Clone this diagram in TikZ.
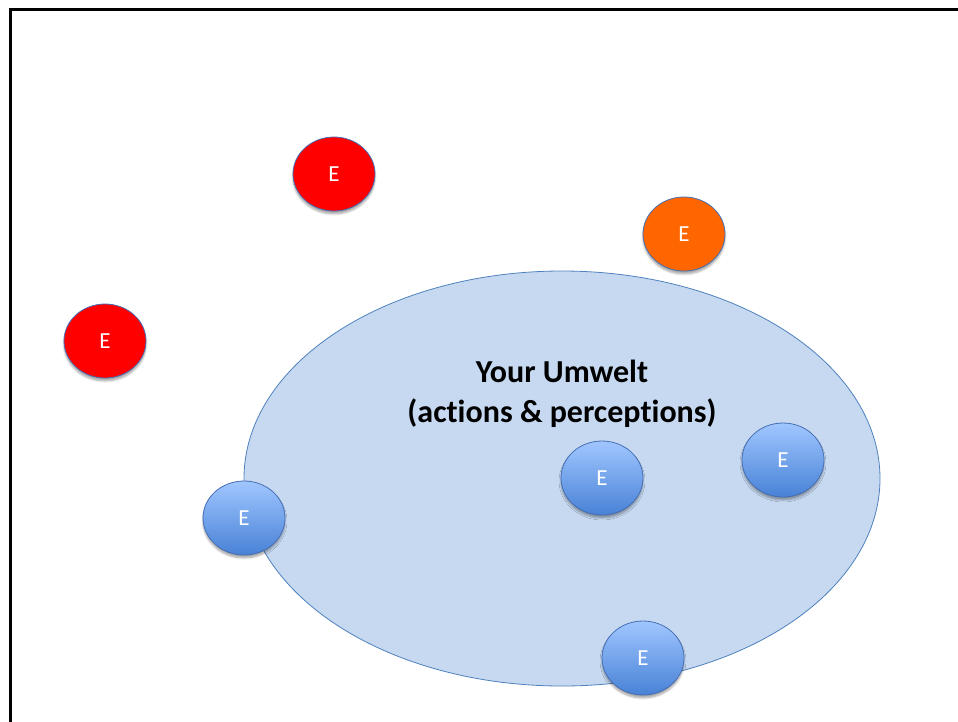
\documentclass[tikz,border=0pt]{standalone}
\usepackage{fontspec}
\setmainfont[Ligatures=NoCommon]{Carlito}
\usetikzlibrary{shadows.blur,shapes.geometric}
\definecolor{umweltfill}{RGB}{198,217,241}
\definecolor{umweltline}{RGB}{79,129,189}
\definecolor{ballline}{RGB}{70,110,180}
\definecolor{balltop}{RGB}{160,198,255}
\definecolor{ballbottom}{RGB}{72,130,214}
\definecolor{entred}{RGB}{255,0,0}
\definecolor{entorange}{RGB}{255,102,0}
\tikzset{
  ent/.style={ellipse, minimum width=82pt, minimum height=74pt, inner sep=0pt,
    draw=ballline, line width=0.8pt, text=white,
    font=\fontsize{23}{23}\selectfont,
    blur shadow={shadow xshift=0pt, shadow yshift=-3pt, shadow opacity=35, shadow blur steps=6}},
  inside/.style={ent, top color=balltop, bottom color=ballbottom},
  outside/.style={ent, fill=entred},
  nearby/.style={ent, fill=entorange},
}
\begin{document}
\begin{tikzpicture}[x=1pt, y=-1pt]
  \useasboundingbox (0,0) rectangle (958,721);
  % page frame, running off the right and bottom edges
  \begin{scope}
    \clip (0,0) rectangle (958,721);
    \draw[line width=3pt] (10.5,760) -- (10.5,9.5) -- (1000,9.5);
  \end{scope}
  % the umwelt region
  \node[ellipse, minimum width=636pt, minimum height=415pt, inner sep=0pt,
        fill=umweltfill, draw=umweltline, line width=0.8pt] (umwelt) at (562,478.5) {};
  \node[font=\fontsize{32}{40}\selectfont\bfseries, align=center] (title) at (562,394)
    {Your Umwelt\\(actions \& perceptions)};
  % entities
  \node[outside] (e1) at (334,174) {E};
  \node[outside] (e2) at (105,341) {E};
  \node[nearby]  (e3) at (684,234) {E};
  \node[inside]  (e4) at (602,478) {E};
  \node[inside]  (e5) at (783,460) {E};
  \node[inside]  (e6) at (244,518) {E};
  \node[inside]  (e7) at (643,658) {E};
\end{tikzpicture}
\end{document}
